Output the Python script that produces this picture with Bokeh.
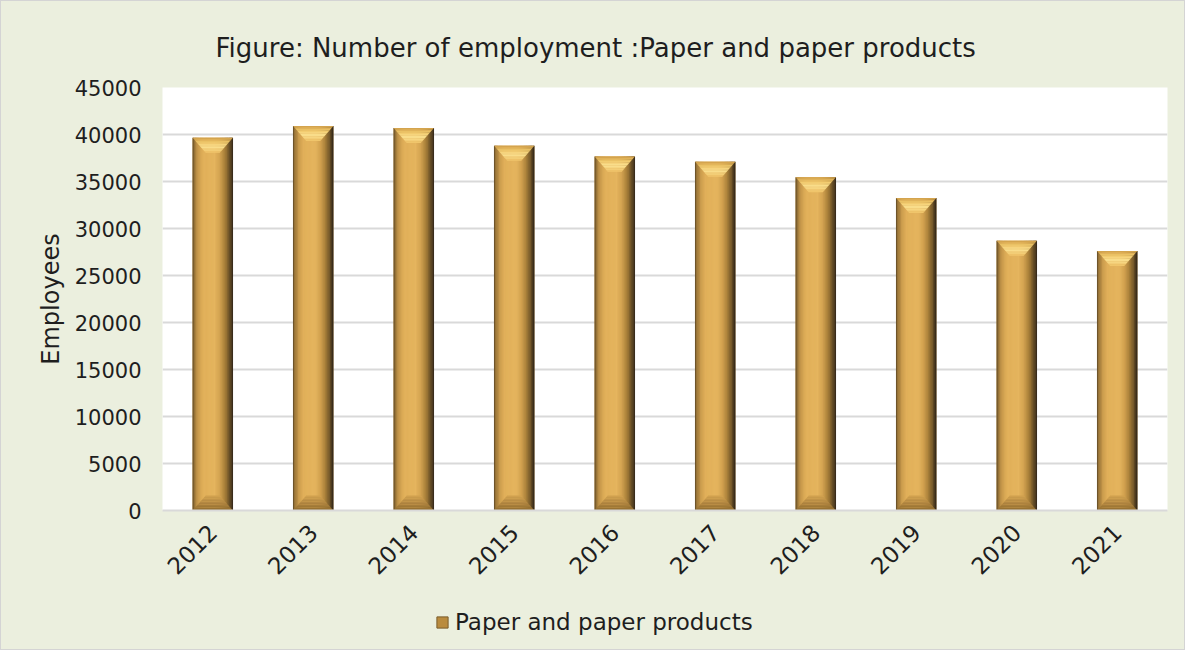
import math
import numpy as np
from bokeh.plotting import figure
from bokeh.layouts import column
from bokeh.models import (Range1d, FixedTicker, Legend, LegendItem, Title,
                          ColumnDataSource)
from bokeh.transform import dodge
from bokeh.embed import file_html
from bokeh.resources import INLINE

# ---------------- data ----------------
years = ["2012", "2013", "2014", "2015", "2016", "2017", "2018", "2019", "2020", "2021"]
employees = [39650, 40900, 40700, 38800, 37650, 37100, 35450, 33250, 28700, 27600]
y_ticks = [0, 5000, 10000, 15000, 20000, 25000, 30000, 35000, 40000, 45000]
series_name = "Paper and paper products"
title_text = "Figure: Number of employment :Paper and paper products"
y_label = "Employees"

# ---------------- style ----------------
BG = "#ebefde"
GRID = "#d9d9d9"
TXT = "#1e1e1e"
FONT = "DejaVu Sans"
BAR_W = 0.4
BEVEL = 1600        # bevel depth in data units (~15 px)
INNER = 0.35        # inner width ratio of the bevels

def hex2rgb(h):
    h = h.lstrip("#")
    return np.array([int(h[i:i + 2], 16) for i in (0, 2, 4)], dtype=float)

def interp(stops, t):
    ts = [s[0] for s in stops]
    cs = [hex2rgb(s[1]) for s in stops]
    for k in range(len(ts) - 1):
        if ts[k] <= t <= ts[k + 1]:
            f = (t - ts[k]) / (ts[k + 1] - ts[k])
            c = cs[k] * (1 - f) + cs[k + 1] * f
            return "#%02x%02x%02x" % tuple(int(round(v)) for v in c)
    c = cs[-1]
    return "#%02x%02x%02x" % tuple(int(round(v)) for v in c)

side_stops = [(0.0, "#5a4524"), (0.05, "#9a7538"), (0.14, "#c99a4c"), (0.26, "#e1b05a"),
              (0.55, "#e5b55e"), (0.68, "#d2a250"), (0.80, "#a98039"), (0.90, "#74582a"),
              (1.0, "#2e2418")]
top_stops = [(0.0, "#cf9d48"), (0.3, "#f0c86a"), (0.6, "#fbe190"), (1.0, "#eec166")]
bot_stops = [(0.0, "#8e6a2c"), (0.5, "#b08540"), (1.0, "#d3a350")]

x_idx = list(range(len(years)))
src = ColumnDataSource(data=dict(x=x_idx, top=employees))

W = 1183
H1 = 590
H2 = 58

p = figure(width=W, height=H1, output_backend="svg", toolbar_location=None,
           x_range=Range1d(-0.5, len(years) - 0.5), y_range=Range1d(0, 45000),
           min_border_left=161, min_border_right=17, min_border_top=86, min_border_bottom=81,
           background_fill_color="white", border_fill_color=BG, outline_line_color=None)

# ---- bars: base bar plus vertical strips for the horizontal shading ----
p.vbar(x="x", top="top", bottom=0, width=BAR_W, source=src,
       fill_color="#d9a854", line_color=None)
N = 32
sw = BAR_W / N
for i in range(N):
    t = (i + 0.5) / N
    off = -BAR_W / 2 + (i + 0.5) * sw
    p.vbar(x=dodge("x", off), top="top", bottom=0, width=sw * 1.3, source=src,
           fill_color=interp(side_stops, t), line_color=None)

# ---- top bevel (light trapezoid) and bottom bevel (dark trapezoid) ----
K = 10
half = BAR_W / 2
ihalf = BAR_W * INNER / 2
for k in range(K):
    t0, t1 = k / K, (k + 1) / K
    h0 = half - (half - ihalf) * t0
    h1 = half - (half - ihalf) * t1
    xs, ys, xs2, ys2 = [], [], [], []
    for xi, v in zip(x_idx, employees):
        y0 = v - BEVEL * t0
        y1 = v - BEVEL * t1
        xs.append([xi - h0, xi + h0, xi + h1, xi - h1])
        ys.append([y0, y0, y1, y1])
        b0 = BEVEL * t0
        b1 = BEVEL * t1
        xs2.append([xi - h0, xi + h0, xi + h1, xi - h1])
        ys2.append([b0, b0, b1, b1])
    p.patches(xs, ys, fill_color=interp(top_stops, (k + 0.5) / K), line_color=None)
    p.patches(xs2, ys2, fill_color=interp(bot_stops, (k + 0.5) / K), line_color=None)

# ---- axes ----
p.yaxis.ticker = FixedTicker(ticks=y_ticks)
p.xaxis.ticker = FixedTicker(ticks=x_idx)
p.xaxis.major_label_overrides = {i: y for i, y in enumerate(years)}
p.xaxis.major_label_orientation = math.pi / 4

for ax in (p.xaxis[0], p.yaxis[0]):
    ax.major_tick_line_color = None
    ax.minor_tick_line_color = None
    ax.major_label_text_font = FONT
    ax.major_label_text_color = TXT
p.yaxis.major_label_text_font_size = "21px"
p.xaxis.major_label_text_font_size = "23px"
p.yaxis.axis_line_color = None
p.xaxis.axis_line_color = GRID
p.xaxis.axis_line_width = 2
p.yaxis.major_label_standoff = 15
p.xaxis.major_label_standoff = 12
p.yaxis.axis_label = y_label
p.yaxis.axis_label_text_font = FONT
p.yaxis.axis_label_text_font_size = "24px"
p.yaxis.axis_label_text_font_style = "normal"
p.yaxis.axis_label_text_color = TXT
p.yaxis.axis_label_standoff = 7

p.xgrid.grid_line_color = None
p.ygrid.grid_line_color = GRID
p.ygrid.grid_line_width = 2

# ---- title ----
p.title = Title(text=title_text, align="left", offset=53, text_font=FONT,
                text_font_size="26px", text_font_style="normal", text_color=TXT,
                standoff=46, vertical_align="top")

# ---- legend strip below the chart ----
lf = figure(width=W, height=H2, output_backend="svg", toolbar_location=None,
            x_range=Range1d(0, 1), y_range=Range1d(0, 1),
            x_axis_type=None, y_axis_type=None, min_border=0,
            background_fill_color=BG, border_fill_color=BG, outline_line_color=None)
# off-range carrier renderer for the legend swatch (outside the strip's visible range)
leg_r = lf.vbar(x=[0.5], top=[-5], bottom=[-6], width=0.1,
                fill_color="#b98b3e", line_color="#7a5c2b", line_width=1)
legend = Legend(items=[LegendItem(label=series_name, renderers=[leg_r])],
                location=(273, 14), orientation="horizontal",
                background_fill_alpha=0, border_line_color=None,
                label_text_font=FONT, label_text_font_size="23px", label_text_color=TXT,
                glyph_width=14, glyph_height=14, label_standoff=6,
                margin=0, padding=5)
lf.add_layout(legend, "center")

layout = column(p, lf, spacing=0,
                styles={"border": "1px solid #d4d4d4", "background-color": BG})

open("out.html", "w").write(file_html(layout, INLINE))
